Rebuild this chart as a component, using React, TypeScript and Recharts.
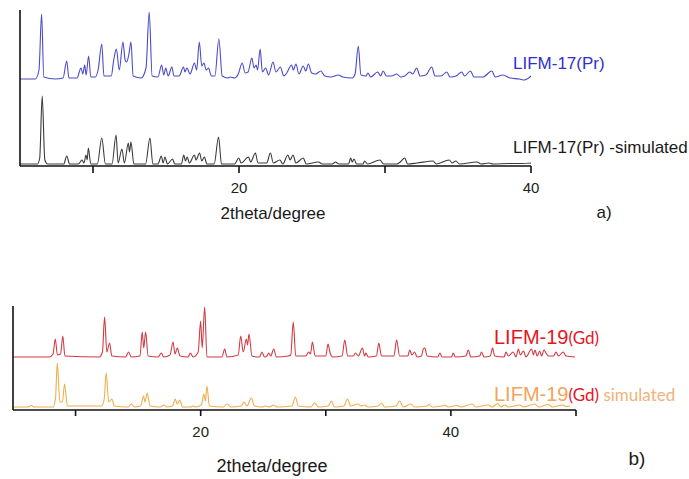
import React from 'react';
import { LineChart, Line, XAxis, YAxis } from 'recharts';

// panel a) LIFM-17(Pr): [2theta, intensity], the experimental trace is offset upward
const pr17Measured: [number, number][] = [
	[5.0, 87], [6.05, 87], [6.3, 96], [6.48, 152], [6.63, 89], [7.4, 87], [7.95, 88],
	[8.2, 105], [8.35, 88], [8.9, 88], [9.18, 98], [9.3, 92], [9.43, 101], [9.53, 91],
	[9.7, 110], [9.85, 89], [10.15, 89], [10.35, 96], [10.6, 122], [10.75, 90],
	[11.25, 90], [11.42, 106], [11.6, 117], [11.8, 96], [12.05, 124], [12.2, 106],
	[12.3, 104], [12.45, 111], [12.6, 124], [12.75, 90], [13.3, 88], [13.63, 98],
	[13.85, 154], [14.05, 90], [14.45, 89], [14.7, 101], [14.85, 91], [14.98, 98],
	[15.15, 90], [15.4, 99], [15.55, 90], [15.9, 90], [16.2, 99], [16.3, 94],
	[16.43, 98], [16.65, 92], [16.95, 103], [17.1, 96], [17.28, 124], [17.45, 100],
	[17.6, 103], [17.75, 96], [17.92, 98], [18.1, 90], [18.35, 90], [18.62, 127],
	[18.85, 90], [19.25, 88], [19.4, 89], [19.7, 88], [19.95, 92], [20.22, 103],
	[20.42, 93], [20.62, 94], [20.88, 108], [21.03, 98], [21.17, 101], [21.27, 96],
	[21.45, 117], [21.6, 94], [21.83, 98], [22.03, 91], [22.33, 104], [22.53, 94],
	[22.83, 99], [23.07, 90], [23.27, 93], [23.6, 101], [23.72, 96], [23.9, 102],
	[24.1, 92], [24.4, 100], [24.57, 95], [24.75, 102], [24.98, 93], [25.25, 92],
	[25.6, 95], [25.88, 90], [26.3, 89], [26.8, 91], [27.1, 89], [27.75, 88],
	[27.95, 92], [28.17, 120], [28.35, 91], [28.7, 90], [28.83, 93], [29.02, 89],
	[29.5, 94], [29.7, 90], [29.87, 95], [30.1, 90], [30.45, 90], [30.8, 92],
	[31.08, 89], [31.35, 90], [31.7, 94], [31.9, 92], [32.17, 98], [32.4, 90],
	[32.8, 91], [33.2, 99], [33.43, 90], [33.85, 90], [34.23, 94], [34.45, 89],
	[34.86, 90], [35.25, 94], [35.45, 90], [35.85, 95], [36.1, 89], [36.7, 89],
	[37.32, 95], [37.55, 89], [38.08, 91], [38.55, 88], [39.2, 87], [39.55, 86],
	[40.0, 90],
];

const pr17Simulated: [number, number][] = [
	[5.0, 2], [6.2, 2], [6.35, 8], [6.52, 70], [6.7, 6], [6.9, 2], [8.0, 2], [8.2, 10],
	[8.4, 2], [9.0, 2], [9.25, 6], [9.38, 3], [9.52, 11], [9.6, 6], [9.68, 18],
	[9.85, 2], [10.3, 2], [10.6, 28], [10.85, 2], [11.3, 2], [11.58, 31], [11.72, 3],
	[11.98, 17], [12.15, 3], [12.42, 23], [12.5, 14], [12.6, 24], [12.8, 2],
	[13.6, 2], [13.9, 28], [14.1, 2], [14.45, 2], [14.68, 10], [14.8, 3], [14.93, 9],
	[15.1, 2], [15.45, 7], [15.6, 2], [16.05, 2], [16.22, 11], [16.33, 5], [16.45, 9],
	[16.6, 3], [16.95, 11], [17.05, 6], [17.3, 13], [17.45, 5], [17.63, 9], [17.8, 2],
	[18.3, 2], [18.6, 29], [18.8, 2], [19.7, 2], [19.98, 8], [20.15, 3], [20.65, 9],
	[20.8, 4], [21.12, 13], [21.3, 3], [21.9, 3], [22.15, 13], [22.35, 3], [22.8, 6],
	[23.0, 2], [23.35, 11], [23.5, 6], [23.7, 11], [23.9, 3], [24.4, 8], [24.6, 2],
	[25.45, 4], [25.7, 2], [26.4, 2], [26.6, 4], [26.85, 2], [27.5, 2], [27.65, 8],
	[27.75, 4], [27.88, 7], [28.05, 2], [28.5, 2], [28.6, 5], [28.8, 2], [29.65, 6],
	[29.9, 2], [30.8, 2], [31.05, 4], [31.35, 8], [31.55, 2], [32.2, 3], [33.3, 5],
	[33.5, 2], [34.4, 6], [34.6, 3], [34.85, 5], [35.1, 2], [36.3, 4], [36.6, 2],
	[37.1, 3], [37.4, 2], [38.5, 2.5], [39.4, 2.5], [40.0, 3],
];

// panel b) LIFM-19(Gd)
const gd19Measured: [number, number][] = [
	[5.0, 53], [7.9, 53], [8.2, 56], [8.38, 71], [8.55, 55], [8.8, 56], [8.98, 74],
	[9.15, 54], [11.9, 53], [12.15, 58], [12.32, 93], [12.5, 58], [12.72, 67],
	[12.9, 54], [14.0, 53], [14.24, 58], [14.45, 53], [15.15, 54], [15.33, 78],
	[15.45, 62], [15.6, 78], [15.8, 54], [16.6, 53], [16.85, 57], [17.05, 53],
	[17.55, 55], [17.79, 68], [17.95, 56], [18.13, 62], [18.35, 54], [19.0, 53],
	[19.17, 57], [19.4, 53], [19.8, 58], [20.0, 89], [20.12, 62], [20.32, 103],
	[20.5, 53], [21.7, 53], [21.92, 61], [22.1, 53], [23.0, 55], [23.2, 74],
	[23.4, 58], [23.65, 71], [23.75, 65], [23.86, 76], [24.1, 54], [24.7, 53],
	[24.9, 58], [25.1, 53], [25.3, 54], [25.44, 57], [25.6, 54], [25.84, 61],
	[26.05, 53], [27.0, 54], [27.2, 55], [27.4, 88], [27.6, 54], [28.4, 54],
	[28.64, 58], [28.78, 56], [28.93, 68], [29.15, 54], [30.0, 54], [30.18, 66],
	[30.35, 57], [30.55, 53], [31.3, 54], [31.52, 70], [31.75, 54], [32.2, 54],
	[32.37, 57], [32.6, 54], [32.93, 62], [33.1, 54], [33.2, 57], [33.4, 53],
	[34.05, 54], [34.24, 67], [34.45, 54], [35.45, 54], [35.66, 70], [35.9, 54],
	[36.55, 54], [36.72, 60], [36.88, 55], [37.1, 58], [37.3, 53], [37.65, 54],
	[37.79, 61], [37.92, 62], [38.1, 54], [38.95, 53], [39.12, 57], [39.3, 53],
	[40.05, 53], [40.19, 57], [40.35, 53], [41.2, 54], [41.39, 60], [41.6, 53],
	[42.3, 54], [42.45, 58], [42.65, 53], [43.15, 54], [43.33, 62], [43.5, 54],
	[44.25, 53], [44.4, 58], [44.6, 54], [44.98, 58], [45.2, 53], [45.4, 61],
	[45.55, 55], [45.8, 59], [46.0, 53], [46.45, 61], [46.6, 55], [46.72, 60],
	[46.9, 54], [47.1, 59], [47.25, 54], [47.44, 60], [47.6, 57], [47.8, 54],
	[48.2, 54], [48.4, 58], [48.6, 54], [48.98, 58], [49.2, 54], [49.92, 53],
];

const gd19Simulated: [number, number][] = [
	[5.0, 3], [6.2, 3], [6.46, 4.5], [6.7, 3], [8.2, 3], [8.4, 12], [8.54, 47],
	[8.75, 8], [8.95, 8], [9.12, 26], [9.35, 4], [12.1, 4], [12.3, 12], [12.45, 37],
	[12.65, 8], [12.9, 11], [13.1, 4], [14.2, 3], [14.45, 6], [14.7, 3], [15.2, 4],
	[15.44, 14], [15.55, 8], [15.73, 17], [15.95, 4], [16.8, 3], [17.04, 5],
	[17.3, 3], [17.75, 4], [17.97, 11], [18.12, 6], [18.32, 10], [18.55, 3],
	[19.2, 3], [19.4, 4], [19.6, 3], [20.05, 5], [20.26, 16], [20.38, 9],
	[20.5, 24], [20.7, 4], [21.8, 3], [22.13, 6], [22.4, 3], [23.25, 4], [23.46, 8],
	[23.7, 4], [24.05, 12], [24.3, 4], [24.9, 3], [25.2, 4], [25.5, 3], [25.8, 5],
	[26.1, 3], [27.3, 4], [27.57, 13], [27.8, 4], [28.8, 3], [29.12, 7], [29.4, 3],
	[30.2, 4], [30.45, 9], [30.7, 3], [31.45, 4], [31.73, 11], [32.0, 4], [32.58, 6],
	[32.8, 4], [33.1, 5], [33.4, 3], [34.2, 4], [34.45, 7], [34.7, 3], [35.6, 4],
	[35.9, 9], [36.2, 3], [36.8, 6], [37.1, 3], [38.1, 4], [38.26, 6], [38.5, 3],
	[39.3, 4], [39.5, 5], [39.8, 3], [40.5, 4.5], [40.8, 3], [41.7, 6], [42.0, 3],
	[43.0, 5], [43.3, 3], [43.74, 6.5], [44.0, 3], [44.3, 5], [44.6, 3], [45.5, 5],
	[45.8, 3], [46.7, 6], [47.0, 3], [47.8, 5.5], [48.1, 3], [48.9, 5], [49.2, 3.5],
	[49.5, 4],
];

const panelATicks = [10, 20, 30, 40];
const panelBTicks = [10, 20, 30, 40, 50];
const labelledTicks = [20, 40];

const toRows = (pts: [number, number][]) => pts.map(([t, i]) => ({ t, i }));

const axisFont = 'Liberation Sans, Arial, sans-serif';
const tickStyle = { fontSize: 15, fill: '#222', fontFamily: axisFont };
const showTick = (v: number) => (labelledTicks.includes(v) ? String(v) : '');

export default function App() {
	const prRows = toRows(pr17Measured);
	const gdRows = toRows(gd19Measured);

	return (
		<div
			style={{
				position: 'absolute',
				left: 0,
				top: 0,
				width: 689,
				height: 479,
				background: '#fff',
				overflow: 'hidden',
			}}
		>
			{/* a) */}
			<div style={{ position: 'absolute', left: 0, top: 0 }}>
				<LineChart
					width={689}
					height={240}
					data={prRows}
					margin={{ top: 10, left: 0, right: 158, bottom: 44 }}
				>
					<XAxis
						type="number"
						dataKey="t"
						domain={[5, 40]}
						ticks={panelATicks}
						height={30}
						allowDataOverflow
						tickSize={7}
						tickMargin={9}
						tickFormatter={showTick}
						tick={tickStyle}
						stroke="#111"
						strokeWidth={1.6}
					/>
					<YAxis
						type="number"
						domain={[0, 156]}
						ticks={[0, 95]}
						width={20}
						allowDataOverflow
						tick={false}
						tickSize={7}
						stroke="#111"
						strokeWidth={1.6}
					/>
					<Line
						data={prRows}
						dataKey="i"
						type="monotone"
						stroke="#4a4ac8"
						strokeWidth={1.1}
						dot={false}
						isAnimationActive={false}
					/>
					<Line
						data={toRows(pr17Simulated)}
						dataKey="i"
						type="monotone"
						stroke="#3a3a3a"
						strokeWidth={1.1}
						dot={false}
						isAnimationActive={false}
					/>
				</LineChart>
			</div>

			{/* b) */}
			<div style={{ position: 'absolute', left: 0, top: 240 }}>
				<LineChart
					width={689}
					height={239}
					data={gdRows}
					margin={{ top: 66, left: 0, right: 113, bottom: 39 }}
				>
					<XAxis
						type="number"
						dataKey="t"
						domain={[5, 50]}
						ticks={panelBTicks}
						height={30}
						allowDataOverflow
						tickSize={6}
						tickMargin={10}
						tickFormatter={showTick}
						tick={tickStyle}
						stroke="#111"
						strokeWidth={1.6}
					/>
					<YAxis
						type="number"
						domain={[0, 104]}
						width={13}
						allowDataOverflow
						tick={false}
						tickLine={false}
						stroke="#111"
						strokeWidth={1.6}
					/>
					<Line
						data={gdRows}
						dataKey="i"
						type="monotone"
						stroke="#d23a44"
						strokeWidth={1.1}
						dot={false}
						isAnimationActive={false}
					/>
					<Line
						data={toRows(gd19Simulated)}
						dataKey="i"
						type="monotone"
						stroke="#efae4c"
						strokeWidth={1.1}
						dot={false}
						isAnimationActive={false}
					/>
				</LineChart>
			</div>

			<svg
				width={689}
				height={479}
				style={{ position: 'absolute', left: 0, top: 0, pointerEvents: 'none' }}
			>
				<g fontFamily={axisFont}>
					<text x={513} y={69} fontSize={17} fill="#2f2fd0">
						LIFM-17(Pr)
					</text>
					<text x={513} y={153} fontSize={17} fill="#1a1a1a">
						LIFM-17(Pr) -simulated
					</text>
					<text x={273} y={219} fontSize={17} fill="#1a1a1a" textAnchor="middle">
						2theta/degree
					</text>
					<text x={604} y={218} fontSize={17} fill="#1a1a1a" textAnchor="middle">
						a)
					</text>

					<text x={494} y={344} fill="#e3151f">
						<tspan fontSize={20}>LIFM-19</tspan>
						<tspan fontSize={17} fontFamily="Lato, sans-serif">
							(Gd)
						</tspan>
					</text>
					<text x={494} y={401}>
						<tspan fontSize={20} fill="#f4a35a">
							LIFM-19
						</tspan>
						<tspan fontSize={17} fontFamily="Lato, sans-serif" fill="#e3151f">
							(Gd)
						</tspan>
						<tspan fontSize={17} fontFamily="Lato, sans-serif" fill="#f2b27a">
							{' simulated'}
						</tspan>
					</text>
					<text x={272} y={472} fontSize={18} fill="#1a1a1a" textAnchor="middle">
						2theta/degree
					</text>
					<text x={637} y={465} fontSize={19} fill="#1a1a1a" textAnchor="middle">
						b)
					</text>
				</g>
			</svg>
		</div>
	);
}
